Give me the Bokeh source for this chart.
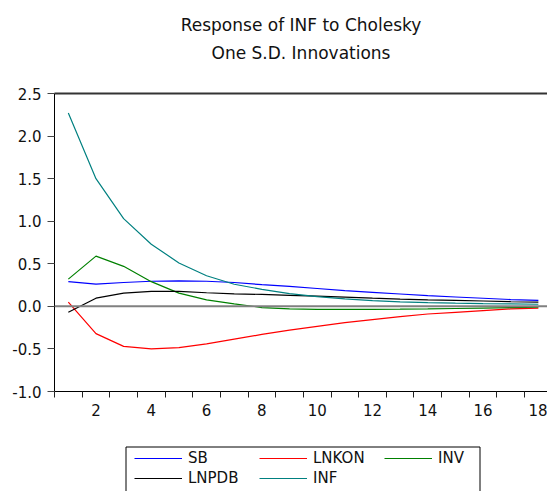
from bokeh.plotting import figure
from bokeh.layouts import column
from bokeh.models import (FixedTicker, Span, Legend, LegendItem, LinearAxis,
                          Title, Range1d, PrintfTickFormatter, BoxAnnotation)
from bokeh.embed import file_html
from bokeh.resources import INLINE

periods = list(range(1, 19))
sb = [0.29, 0.26, 0.28, 0.295, 0.30, 0.295, 0.28, 0.255, 0.235, 0.21, 0.185,
      0.165, 0.145, 0.125, 0.11, 0.095, 0.08, 0.07]
lnkon = [0.05, -0.32, -0.47, -0.50, -0.485, -0.44, -0.385, -0.33, -0.28, -0.235,
         -0.19, -0.155, -0.12, -0.09, -0.07, -0.05, -0.03, -0.02]
inv = [0.32, 0.59, 0.47, 0.29, 0.155, 0.076, 0.03, -0.014, -0.03, -0.035, -0.035,
       -0.035, -0.033, -0.03, -0.025, -0.02, -0.015, -0.01]
lnpdb = [-0.07, 0.096, 0.155, 0.175, 0.175, 0.16, 0.147, 0.14, 0.13, 0.12, 0.108,
         0.096, 0.085, 0.077, 0.07, 0.063, 0.056, 0.05]
inf = [2.27, 1.50, 1.03, 0.73, 0.51, 0.36, 0.26, 0.20, 0.15, 0.115, 0.088, 0.068,
       0.053, 0.045, 0.038, 0.032, 0.028, 0.025]

series_names = ["SB", "LNKON", "INV", "LNPDB", "INF"]
series_values = [sb, lnkon, inv, lnpdb, inf]
series_colors = ["#0000FF", "#FF0000", "#008000", "#000000", "#008080"]

x_major = [2, 4, 6, 8, 10, 12, 14, 16, 18]
x_minor = [k + 0.5 for k in range(0, 19)]
y_ticks = [-1.0, -0.5, 0.0, 0.5, 1.0, 1.5, 2.0, 2.5]

title_line1 = "Response of INF to Cholesky"
title_line2 = "One S.D. Innovations"

FONT = "DejaVu Sans"
TXT = "#111111"

# ---------------- main chart ----------------
p = figure(width=547, height=440, output_backend="svg", toolbar_location=None,
           x_range=Range1d(0.5, 18.33), y_range=Range1d(-1.0, 2.5),
           title=None, x_axis_type=None, y_axis_type=None,
           min_border_left=54, min_border_right=0,
           min_border_top=93, min_border_bottom=49)
p.outline_line_color = None
p.grid.visible = False
p.background_fill_color = "white"
p.border_fill_color = "white"

xa = LinearAxis(ticker=FixedTicker(ticks=x_major, minor_ticks=x_minor),
                major_tick_out=0, major_tick_in=0,
                minor_tick_out=6, minor_tick_in=0,
                minor_tick_line_color="#222222", axis_line_color="black",
                major_label_text_font=FONT, major_label_text_font_size="15px",
                major_label_text_color=TXT, major_label_standoff=6)
p.add_layout(xa, "below")

ya = LinearAxis(ticker=FixedTicker(ticks=y_ticks),
                formatter=PrintfTickFormatter(format="%.1f"),
                major_tick_out=7, major_tick_in=0,
                minor_tick_out=0, minor_tick_in=0,
                major_tick_line_color="#444444", axis_line_color="black",
                major_label_text_font=FONT, major_label_text_font_size="15px",
                major_label_text_color=TXT, major_label_standoff=6)
p.add_layout(ya, "left")

# top border of the frame; its axis label carries the title's second line
top_axis = LinearAxis(ticker=FixedTicker(ticks=[]), axis_line_color="#333333",
                      axis_line_width=2, major_tick_out=0, major_tick_in=0,
                      minor_tick_out=0, minor_tick_in=0,
                      major_label_text_alpha=0, major_label_standoff=0,
                      axis_label=title_line2, axis_label_text_font=FONT,
                      axis_label_text_font_size="17px",
                      axis_label_text_font_style="normal",
                      axis_label_text_color=TXT, axis_label_standoff=31)
p.add_layout(top_axis, "above")

p.add_layout(Title(text=title_line1, text_font=FONT, text_font_size="17px",
                   text_font_style="normal", align="center", text_color=TXT),
             "above")

for name, vals, col in zip(series_names, series_values, series_colors):
    p.line(periods, vals, line_color=col, line_width=1.2)

p.add_layout(Span(location=0, dimension="width", line_color="#808080",
                  line_width=2))

# ---------------- legend strip ----------------
# ranges in pixel-like units; the series proxies fall outside the view
lg = figure(width=547, height=51, output_backend="svg", toolbar_location=None,
            x_range=Range1d(0, 493), y_range=Range1d(100, 151),
            x_axis_type=None, y_axis_type=None,
            min_border_left=54, min_border_right=0,
            min_border_top=0, min_border_bottom=0)
lg.grid.visible = False
lg.outline_line_color = None
lg.border_fill_color = "white"
lg.background_fill_color = "white"

items = []
for name, vals, col in zip(series_names, series_values, series_colors):
    r = lg.line(periods, vals, line_color=col, line_width=1.2)
    items.append(LegendItem(label=name, renderers=[r]))

lg.add_layout(BoxAnnotation(left=71.5, right=425.5, bottom=95, top=144.5,
                            fill_color=None, fill_alpha=0,
                            line_color="black", line_width=1, line_alpha=1))

common = dict(orientation="horizontal", margin=0, padding=0,
              label_text_font=FONT, label_text_font_size="15px",
              label_text_color=TXT, label_width=67,
              glyph_width=48, glyph_height=16, label_height=16,
              label_standoff=6, spacing=4,
              border_line_color=None, background_fill_alpha=0)
legend_row1 = Legend(items=items[:3], location=(80, 24), **common)
legend_row2 = Legend(items=items[3:], location=(80, 4), **common)
lg.add_layout(legend_row1, "center")
lg.add_layout(legend_row2, "center")

layout = column(p, lg, spacing=0)
open("out.html", "w").write(file_html(layout, INLINE))
